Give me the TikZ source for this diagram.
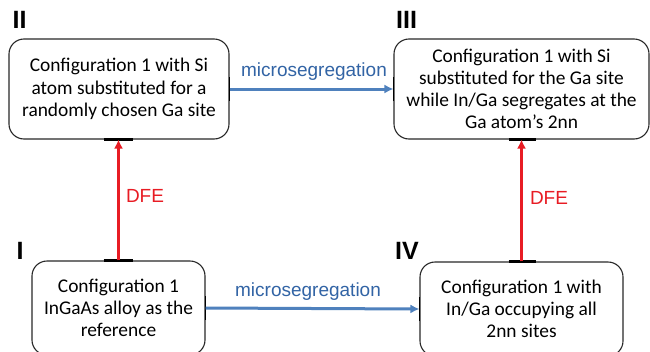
\documentclass[tikz,border=0pt]{standalone}
\usepackage{fontspec}
\setmainfont{Carlito}
\newfontfamily\arialfont{Liberation Sans}
\usetikzlibrary{arrows.meta}
\definecolor{boxline}{RGB}{40,40,40}
\definecolor{pptblue}{RGB}{79,129,189}
\definecolor{bluetext}{RGB}{50,100,165}
\definecolor{pptred}{RGB}{232,28,36}
\tikzset{
  cfgbox/.style={draw=boxline, line width=1.1pt, rounded corners=15pt, align=center,
    inner sep=0pt, font=\fontsize{19.4}{22.2}\selectfont},
  numlabel/.style={anchor=base west, inner sep=0pt, font=\arialfont\bfseries\fontsize{25}{28}\selectfont},
  bluearrow/.style={draw=pptblue, line width=3pt, -{Latex[length=9pt,width=9pt]}},
  redarrow/.style={draw=pptred, line width=3pt, -{Latex[length=9pt,width=9pt]}},
  bluelabel/.style={text=bluetext, inner sep=0pt, font=\arialfont\fontsize{19}{22}\selectfont},
  redlabel/.style={text=pptred, inner sep=0pt, font=\arialfont\fontsize{19}{22}\selectfont},
  tick/.style={draw=black, line width=2.2pt},
  vtick/.style={draw=black, line width=1.6pt}
}
\begin{document}
\begin{tikzpicture}[x=1pt,y=-1pt]
\useasboundingbox[fill=white] (0,0) rectangle (650,351);
\begin{scope}
\clip (0,0) rectangle (650,351);
\node[cfgbox, minimum width=220pt, minimum height=100pt] (II) at (119,89)
  {Configuration 1 with Si\\atom substituted for a\\randomly chosen Ga site};
\node[cfgbox, minimum width=255pt, minimum height=100pt] (III) at (521.5,89)
  {Configuration 1 with Si\\substituted for the Ga site\\while In/Ga segregates at the\\Ga atom’s 2nn};
\node[cfgbox, minimum width=173pt, minimum height=94pt] (I) at (118.5,308)
  {Configuration 1\\InGaAs alloy as the\\reference};
\node[cfgbox, minimum width=203pt, minimum height=94pt] (IV) at (521.5,309)
  {Configuration 1 with\\In/Ga occupying all\\2nn sites};

\draw[tick] ([xshift=-15pt]I.north) -- ([xshift=14pt]I.north);
\draw[tick] ([xshift=-15pt]II.south) -- ([xshift=14pt]II.south);
\draw[tick] ([xshift=-13pt]IV.north) -- ([xshift=14pt]IV.north);
\draw[tick] ([xshift=-13pt]III.south) -- ([xshift=14pt]III.south);
\draw[vtick] ([yshift=-12pt]II.east) -- ([yshift=12pt]II.east);
\draw[vtick] ([yshift=-12pt]III.west) -- ([yshift=12pt]III.west);
\draw[vtick] ([yshift=-12pt]I.east) -- ([yshift=12pt]I.east);
\draw[vtick] ([yshift=-12pt]IV.west) -- ([yshift=12pt]IV.west);

\draw[bluearrow] (II.east) -- (III.west);
\draw[bluearrow] (I.east) -- (IV.west);
\draw[redarrow] (I.north) -- (I.north |- II.south);
\draw[redarrow] (IV.north) -- (IV.north |- III.south);

\node[bluelabel] (ms1) at (314,72) {microsegregation};
\node[bluelabel] (ms2) at (308,292) {microsegregation};
\node[redlabel] (dfe1) at (145,196) {DFE};
\node[redlabel] (dfe2) at (549,198) {DFE};

\node[numlabel] (nII) at (12.5,28) {II};
\node[numlabel] (nIII) at (396,28) {III};
\node[numlabel] (nI) at (16.5,259) {I};
\node[numlabel] (nIV) at (395,259) {IV};
\end{scope}
\end{tikzpicture}
\end{document}
